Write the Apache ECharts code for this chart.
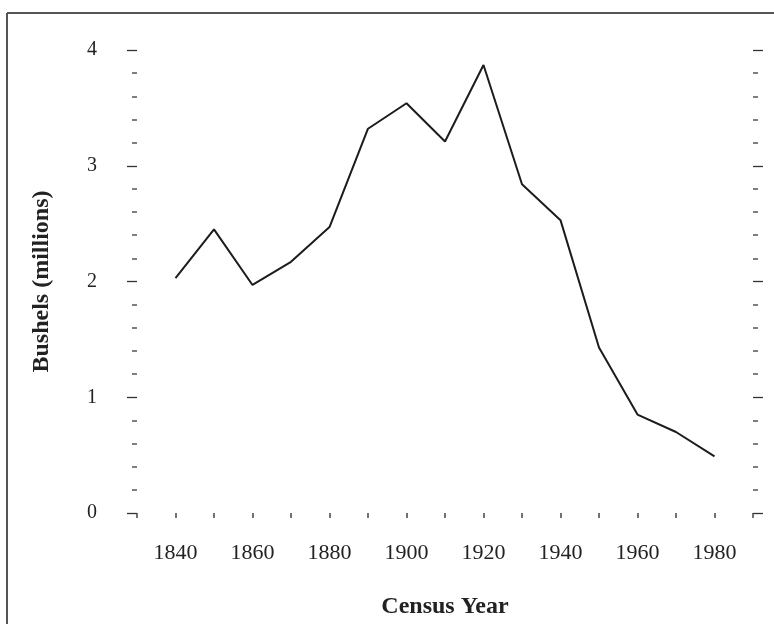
<!DOCTYPE html>
<html>
<head>
<meta charset="utf-8">
<title>Bushels by Census Year</title>
<script src="https://cdn.jsdelivr.net/npm/echarts@6/dist/echarts.min.js"></script>
<style>
  html, body { margin: 0; padding: 0; background: #ffffff; }
  #chart { width: 774px; height: 624px; }
</style>
</head>
<body>
<div id="chart"></div>
<script>
// Census years and harvest, in millions of bushels
const years = [1840, 1850, 1860, 1870, 1880, 1890, 1900, 1910, 1920, 1930, 1940, 1950, 1960, 1970, 1980];
const bushels = [2.03, 2.45, 1.97, 2.17, 2.47, 3.32, 3.54, 3.21, 3.87, 2.84, 2.53, 1.43, 0.85, 0.70, 0.49];
const xLabelYears = [1840, 1860, 1880, 1900, 1920, 1940, 1960, 1980];
const yTicks = [0, 1, 2, 3, 4];

const serif = '"Liberation Serif", "Times New Roman", serif';
const ink = '#222222';

const chart = echarts.init(document.getElementById('chart'), null, { renderer: 'canvas' });

const yAxisBase = {
  type: 'value',
  min: yTicks[0],
  max: yTicks[yTicks.length - 1],
  interval: 1,
  axisLine: { show: false },
  splitLine: { show: false },
  axisTick: { show: true, inside: false, length: 10, lineStyle: { color: '#333', width: 1.3 } },
  minorTick: { show: true, splitNumber: 5, length: 5, lineStyle: { color: '#555', width: 1.5 } },
  minorSplitLine: { show: false }
};

chart.setOption({
  backgroundColor: '#ffffff',
  animation: false,
  grid: { left: 137, right: 21, top: 50, bottom: 107, containLabel: false },
  xAxis: {
    type: 'value',
    min: 1830,
    max: 1990,
    interval: 10,
    name: 'Census Year',
    nameLocation: 'middle',
    nameGap: 82,
    nameTextStyle: { fontFamily: serif, fontWeight: 'bold', fontSize: 24, color: ink },
    axisLine: { show: false },
    splitLine: { show: false },
    axisTick: { show: true, inside: false, length: 5, lineStyle: { color: '#444', width: 1.5 } },
    axisLabel: {
      margin: 29,
      fontFamily: serif,
      fontSize: 22,
      color: ink,
      formatter: v => (xLabelYears.indexOf(v) >= 0 ? String(v) : '')
    }
  },
  yAxis: [
    Object.assign({}, yAxisBase, {
      position: 'left',
      name: 'Bushels (millions)',
      nameLocation: 'middle',
      nameGap: 83,
      nameTextStyle: { fontFamily: serif, fontWeight: 'bold', fontSize: 24, color: ink },
      axisLabel: {
        margin: 40,
        fontFamily: serif,
        fontSize: 20,
        color: ink,
        formatter: v => (yTicks.indexOf(v) >= 0 ? String(v) : '')
      }
    }),
    Object.assign({}, yAxisBase, {
      position: 'right',
      axisLabel: { show: false }
    })
  ],
  series: [{
    type: 'line',
    data: years.map((y, i) => [y, bushels[i]]),
    showSymbol: false,
    smooth: false,
    lineStyle: { color: '#1c1c1c', width: 2 },
    yAxisIndex: 0
  }],
  graphic: [
    // frame edges along the top and left of the figure
    { type: 'line', shape: { x1: 7, y1: 13, x2: 774, y2: 13 }, style: { stroke: '#555', lineWidth: 2 } },
    { type: 'line', shape: { x1: 7, y1: 13, x2: 7, y2: 624 }, style: { stroke: '#555', lineWidth: 2 } }
  ]
});
</script>
</body>
</html>
